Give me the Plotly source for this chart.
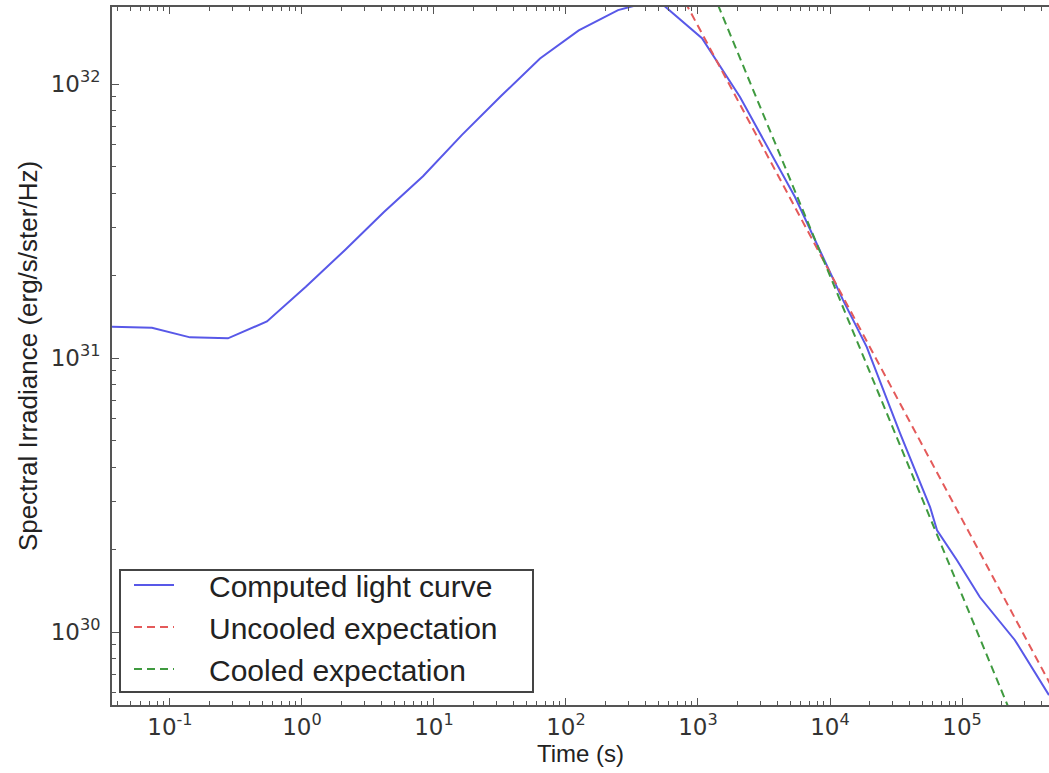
import plotly.graph_objects as go

# Computed light curve (time in s, spectral irradiance)
t_curve = [0.0364, 0.073, 0.142, 0.275, 0.543, 1.07, 2.12, 4.18, 8.26, 16.3, 32.2, 63.6,
           125, 248, 490, 1072, 2080, 5430, 12530, 19000, 33900, 57300, 64700, 91600,
           136800, 251000, 456000]
f_curve = [1.30e31, 1.29e31, 1.19e31, 1.18e31, 1.36e31, 1.82e31, 2.48e31, 3.41e31, 4.61e31,
           6.52e31, 9.04e31, 1.24e32, 1.57e32, 1.86e32, 2.03e32, 1.47e32, 8.97e31, 3.87e31,
           1.63e31, 1.096e31, 5.32e30, 2.86e30, 2.35e30, 1.83e30, 1.34e30, 9.36e29, 5.89e29]

# Uncooled expectation
t_uncooled = [800, 1e6]
f_uncooled = [1.99e32, 3.25e29]

# Cooled expectation
t_cooled = [1300, 1e6]
f_cooled = [2.15e32, 9.33e28]

# Tick positions and labels
x_tickvals = [0.1, 1, 10, 100, 1000, 1e4, 1e5]
x_ticktext = ["10<sup>-1</sup>", "10<sup>0</sup>", "10<sup>1</sup>", "10<sup>2</sup>",
              "10<sup>3</sup>", "10<sup>4</sup>", "10<sup>5</sup>"]
y_tickvals = [1e30, 1e31, 1e32]
y_ticktext = ["10<sup>30</sup>", "10<sup>31</sup>", "10<sup>32</sup>"]

series_names = ["Computed light curve", "Uncooled expectation", "Cooled expectation"]

W, H = 1049, 773
L, R, T, B = 112, 0, 7, 68
pw, ph = W - L - R, H - T - B

def px(x):
    return (x - L) / pw

def py(y):
    return (H - B - y) / ph

pad = "\u2003"
fig = go.Figure()
fig.add_trace(go.Scatter(x=t_curve, y=f_curve, mode="lines", name=pad + series_names[0],
                         line=dict(color="#5858e8", width=2)))
fig.add_trace(go.Scatter(x=t_uncooled, y=f_uncooled, mode="lines", name=pad + series_names[1],
                         line=dict(color="#e45a5a", width=2, dash="8px,5px")))
fig.add_trace(go.Scatter(x=t_cooled, y=f_cooled, mode="lines", name=pad + series_names[2],
                         line=dict(color="#3f9a3f", width=2, dash="8px,5px")))

axis_col = "#555555"
tickfont = dict(family="DejaVu Sans", size=23, color="#333333")

fig.update_layout(
    width=W, height=H,
    margin=dict(l=L, r=R, t=T, b=B, autoexpand=False),
    paper_bgcolor="white", plot_bgcolor="white",
    showlegend=True,
    legend=dict(x=px(129), y=py(559), xanchor="left", yanchor="top",
                bgcolor="rgba(0,0,0,0)", borderwidth=0,
                font=dict(family="Liberation Sans", size=30, color="#222222"),
                tracegroupgap=0, itemwidth=40),
    shapes=[dict(type="rect", xref="paper", yref="paper",
                 x0=px(120), x1=px(533), y0=py(692), y1=py(570),
                 line=dict(color="#444444", width=2), fillcolor="rgba(0,0,0,0)")],
    xaxis=dict(type="log", range=[-1.439, 5.659], tickmode="array",
               tickvals=x_tickvals, ticktext=x_ticktext,
               showgrid=False, zeroline=False, showline=True, linecolor=axis_col, linewidth=2,
               mirror="allticks", ticks="inside", ticklen=7, tickwidth=1, tickcolor=axis_col,
               tickfont=tickfont,
               minor=dict(ticks="inside", ticklen=4, tickcolor=axis_col, dtick="D1", showgrid=False),
               title=dict(text="Time (s)", font=dict(family="Liberation Sans", size=24, color="#222222"),
                          standoff=6),
               automargin=False),
    yaxis=dict(type="log", range=[29.734, 32.281], tickmode="array",
               tickvals=y_tickvals, ticktext=y_ticktext,
               showgrid=False, zeroline=False, showline=True, linecolor=axis_col, linewidth=2,
               mirror=False, ticks="inside", ticklen=7, tickwidth=1, tickcolor=axis_col,
               tickfont=tickfont, ticklabelstandoff=5,
               minor=dict(ticks="inside", ticklen=4, tickcolor=axis_col, dtick="D1", showgrid=False),
               title=dict(text="Spectral Irradiance (erg/s/ster/Hz)",
                          font=dict(family="Liberation Sans", size=26, color="#222222"),
                          standoff=6),
               automargin=False),
)

fig.write_html("out.html")
